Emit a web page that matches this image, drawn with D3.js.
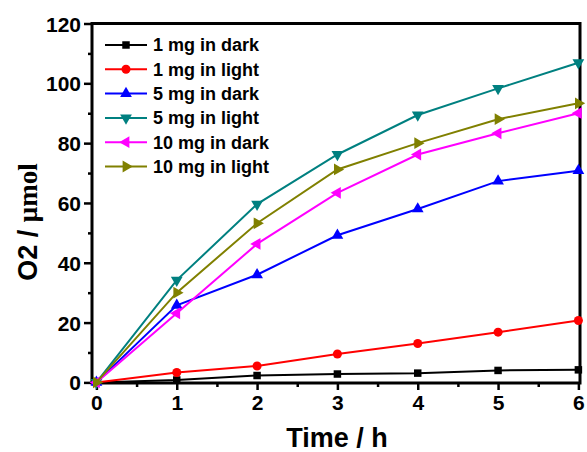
<!DOCTYPE html>
<html>
<head>
<meta charset="utf-8">
<script src="https://cdn.jsdelivr.net/npm/d3@7"></script>
<style>
  body { margin: 0; background: #fff; }
  svg text { font-family: "Liberation Sans", Arial, sans-serif; font-weight: bold; }
</style>
</head>
<body>
<div id="chart"></div>
<script>
// time points (h)
const hours = [0, 1, 2, 3, 4, 5, 6];

// O2 evolved (umol)
const mg1Dark   = [0, 0.8, 2.3, 2.8, 3.1, 4.0, 4.2];
const mg1Light  = [0, 3.3, 5.5, 9.5, 13.0, 16.8, 20.7];
const mg5Dark   = [0, 25.8, 36.0, 49.2, 58.0, 67.3, 70.8];
const mg5Light  = [0, 34.2, 59.6, 76.2, 89.4, 98.3, 106.9];
const mg10Dark  = [0, 23.1, 46.3, 63.4, 76.2, 83.3, 90.0];
const mg10Light = [0, 30.0, 53.2, 71.2, 80.0, 88.0, 93.3];

const seriesNames = ["1 mg in dark", "1 mg in light", "5 mg in dark", "5 mg in light", "10 mg in dark", "10 mg in light"];
const xTicks = [0, 1, 2, 3, 4, 5, 6];
const yTicks = [0, 20, 40, 60, 80, 100, 120];

const width = 587, height = 452;
const margin = {left: 92, right: 7, top: 23.5, bottom: 69};

const svg = d3.select("#chart")
  .append("svg")
  .attr("width", width)
  .attr("height", height);

const x = d3.scaleLinear()
  .domain([-0.055, 6.02])
  .range([margin.left, width - margin.right]);

const y = d3.scaleLinear()
  .domain([-0.2, 120])
  .range([height - margin.bottom, margin.top]);

// series styling
const styles = [
  {color: "#000000", sym: d3.symbolSquare, size: 56, rot: 0},
  {color: "#ff0000", sym: d3.symbolCircle, size: 64, rot: 0},
  {color: "#0000ff", sym: d3.symbolTriangle, size: 60, rot: 0},
  {color: "#008080", sym: d3.symbolTriangle, size: 60, rot: 180},
  {color: "#ff00ff", sym: d3.symbolTriangle, size: 60, rot: -90},
  {color: "#808000", sym: d3.symbolTriangle, size: 60, rot: 90}
];

const allSeries = [mg1Dark, mg1Light, mg5Dark, mg5Light, mg10Dark, mg10Light].map((vals, i) => ({
  name: seriesNames[i],
  values: vals.map((v, j) => ({t: hours[j], v: v})),
  style: styles[i]
}));

// minor ticks
svg.append("g")
  .attr("transform", `translate(0,${y.range()[0]})`)
  .call(d3.axisBottom(x).tickValues(d3.range(0.5, 6, 1)).tickSize(4).tickFormat(""))
  .call(g => g.select(".domain").remove())
  .selectAll("line").attr("stroke-width", 2.5);

svg.append("g")
  .attr("transform", `translate(${margin.left},0)`)
  .call(d3.axisLeft(y).tickValues(d3.range(10, 120, 20)).tickSize(4).tickFormat(""))
  .call(g => g.select(".domain").remove())
  .selectAll("line").attr("stroke-width", 2.5);

// major axes
const xAxis = svg.append("g")
  .attr("transform", `translate(0,${y.range()[0]})`)
  .call(d3.axisBottom(x).tickValues(xTicks).tickFormat(d3.format("d"))
    .tickSize(7).tickPadding(5).tickSizeOuter(0));
xAxis.select(".domain").remove();
xAxis.selectAll("line").attr("stroke-width", 2.5);
xAxis.selectAll("text").attr("font-size", "21px").attr("fill", "#000");

const yAxis = svg.append("g")
  .attr("transform", `translate(${margin.left},0)`)
  .call(d3.axisLeft(y).tickValues(yTicks).tickFormat(d3.format("d"))
    .tickSize(8).tickPadding(3).tickSizeOuter(0));
yAxis.select(".domain").remove();
yAxis.selectAll("line").attr("stroke-width", 2.5);
yAxis.selectAll("text").attr("font-size", "21px").attr("fill", "#000").attr("dy", "0.36em");

// frame
svg.append("rect")
  .attr("x", x.range()[0])
  .attr("y", y.range()[1])
  .attr("width", x.range()[1] - x.range()[0])
  .attr("height", y.range()[0] - y.range()[1])
  .attr("fill", "none")
  .attr("stroke", "#000")
  .attr("stroke-width", 3);

// lines
const line = d3.line()
  .x(d => x(d.t))
  .y(d => y(d.v));

const symbolPath = s => d3.symbol().type(s.sym).size(s.size)();

allSeries.forEach(s => {
  svg.append("path")
    .datum(s.values)
    .attr("d", line)
    .attr("fill", "none")
    .attr("stroke", s.style.color)
    .attr("stroke-width", 2);

  svg.selectAll(null)
    .data(s.values)
    .enter()
    .append("path")
    .attr("d", symbolPath(s.style))
    .attr("transform", d => `translate(${x(d.t)},${y(d.v)}) rotate(${s.style.rot})`)
    .attr("fill", s.style.color);
});

// legend
const legend = svg.append("g").attr("transform", "translate(105,45)");
allSeries.forEach((s, i) => {
  const row = legend.append("g").attr("transform", `translate(0,${i * 24.3})`);
  row.append("line")
    .attr("x1", 0).attr("x2", 42)
    .attr("stroke", s.style.color).attr("stroke-width", 2);
  row.append("path")
    .attr("d", symbolPath(s.style))
    .attr("transform", `translate(21,0) rotate(${s.style.rot})`)
    .attr("fill", s.style.color);
  row.append("text")
    .attr("x", 48).attr("dy", "0.35em")
    .attr("font-size", "18px")
    .text(s.name);
});

// axis titles
svg.append("text")
  .attr("x", (x.range()[0] + x.range()[1]) / 2 + 1)
  .attr("y", 447)
  .attr("text-anchor", "middle")
  .attr("font-size", "27px")
  .text("Time / h");

const yTitle = svg.append("text")
  .attr("transform", "translate(37,222) rotate(-90)")
  .attr("text-anchor", "middle")
  .attr("font-size", "27px");
yTitle.append("tspan").text("O2 / ");
yTitle.append("tspan")
  .style("font-family", "'Liberation Serif', 'Times New Roman', serif")
  .text("μmol");
</script>
</body>
</html>
